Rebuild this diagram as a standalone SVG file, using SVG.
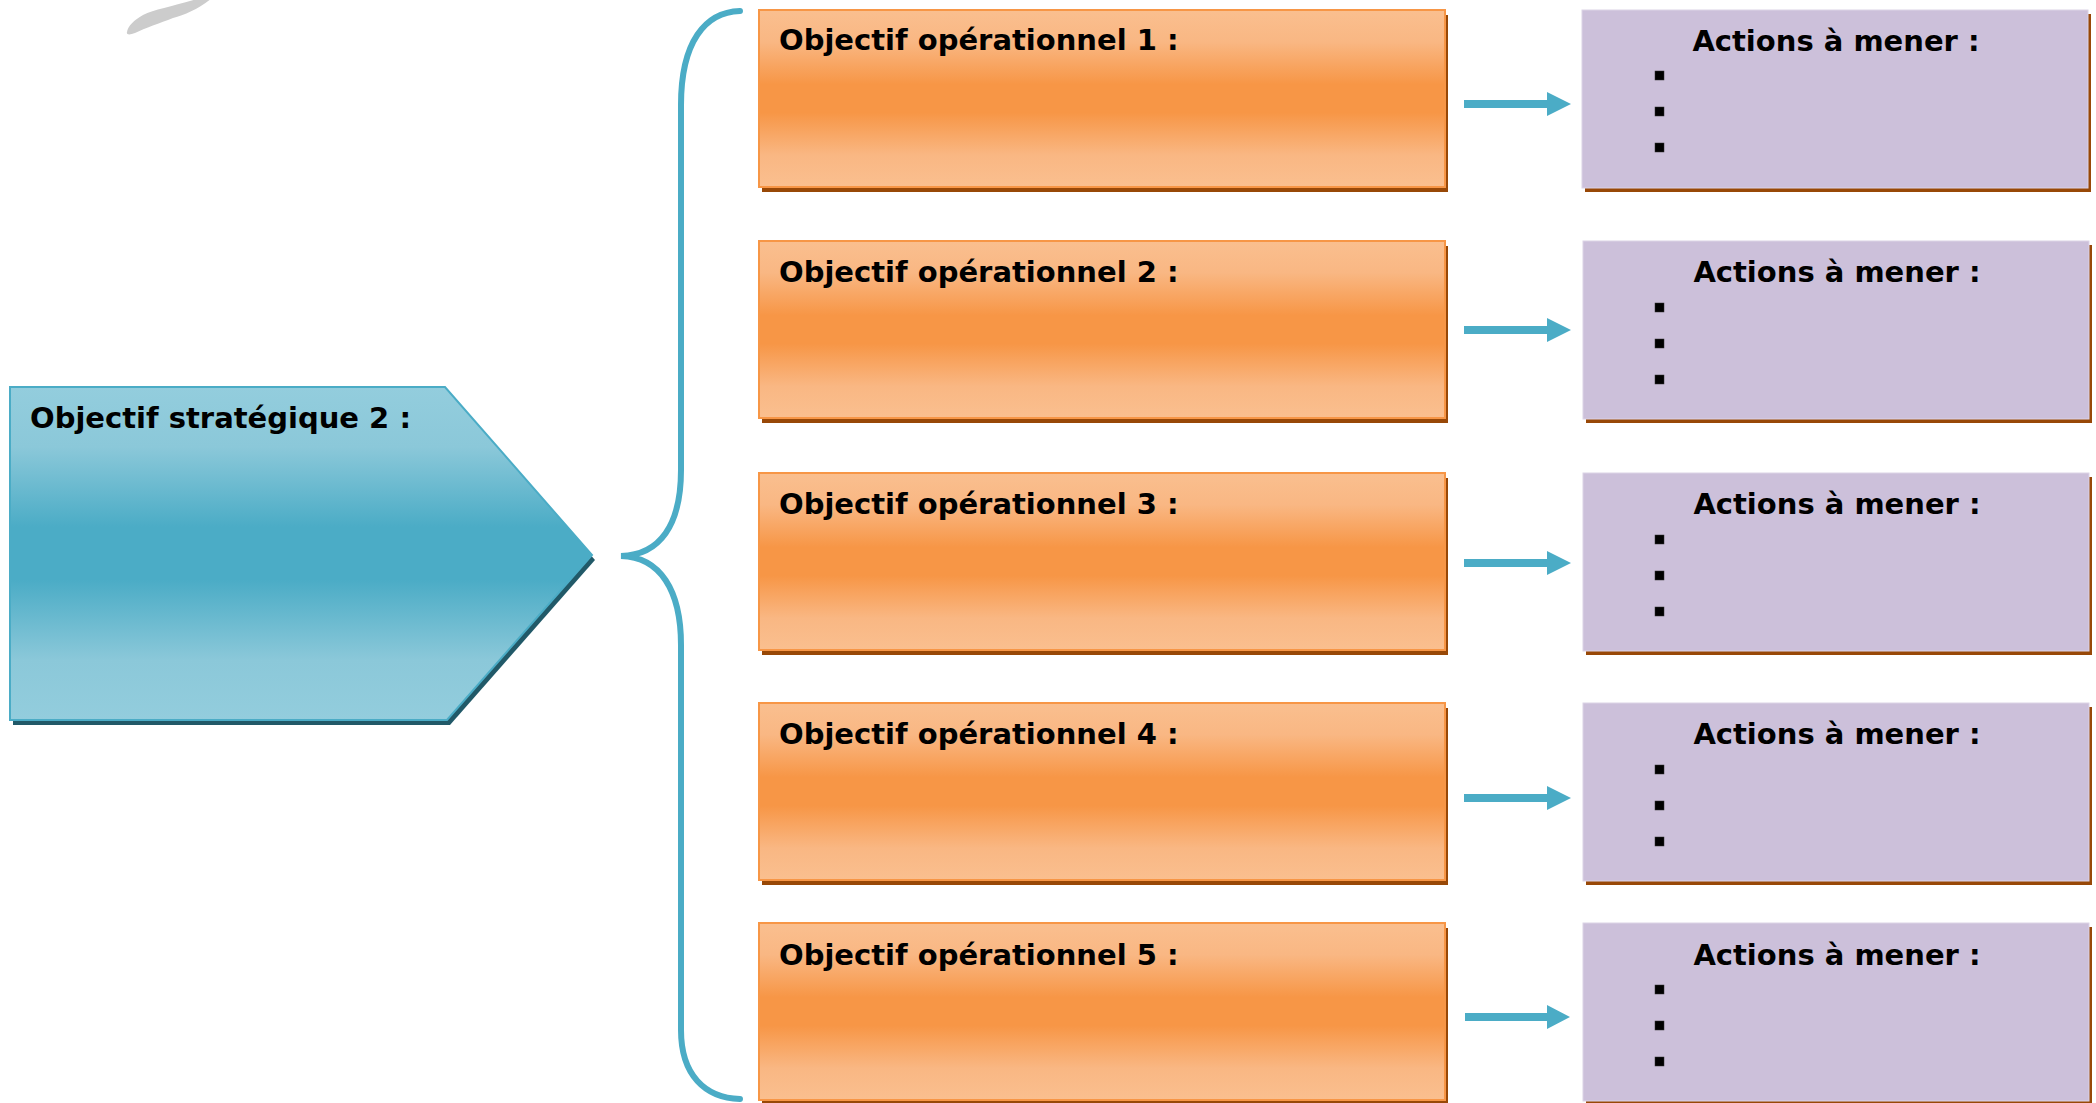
<svg xmlns="http://www.w3.org/2000/svg" width="2096" height="1103" viewBox="0 0 2096 1103">
<defs>
<linearGradient id="gOr" x1="0" y1="0" x2="0" y2="1">
<stop offset="0" stop-color="#FABF8F"/>
<stop offset="0.18" stop-color="#F9B783"/>
<stop offset="0.42" stop-color="#F79646"/>
<stop offset="0.58" stop-color="#F79646"/>
<stop offset="0.82" stop-color="#F9B783"/>
<stop offset="1" stop-color="#FABF8F"/>
</linearGradient>
<linearGradient id="gTe" x1="0" y1="0" x2="0" y2="1">
<stop offset="0" stop-color="#93CDDD"/>
<stop offset="0.18" stop-color="#8BC8D9"/>
<stop offset="0.42" stop-color="#4BACC6"/>
<stop offset="0.58" stop-color="#4BACC6"/>
<stop offset="0.82" stop-color="#8BC8D9"/>
<stop offset="1" stop-color="#93CDDD"/>
</linearGradient>
<style>
.t{font-family:"DejaVu Sans","Verdana",sans-serif;font-weight:bold;font-size:29px;fill:#000}
.tc{text-anchor:middle}
.or{fill:url(#gOr);stroke:#F79646;stroke-width:2}
.pu{fill:#CCC0DA;stroke:#DCD3E6;stroke-width:1}
.sh{fill:#984807}
.bu{fill:#000;stroke:#333;stroke-width:0.5}
.ar{fill:#4BACC6}
.br{fill:none;stroke:#4BACC6;stroke-width:6;stroke-linecap:round}
</style>
</defs>
<rect width="2096" height="1103" fill="#fff"/>
<path d="M127,32 C128,26 134,20 143,15 C155,9 175,6 200,-2 L212,-2 C200,8 185,15 173,18 C160,23 145,28 135,33 C130,35 126,35 127,32 Z" fill="#CCCCCC"/>

<g id="strategic">
<polygon points="13,392 448,392 595,560 450,725 13,725" fill="#215968"/>
<polygon points="10,387 445,387 592,555 447,720 10,720" fill="url(#gTe)" stroke="#4BACC6" stroke-width="2"/>
<text class="t" x="30" y="428">Objectif stratégique 2 :</text>
</g>

<g id="op1">
<rect class="sh" x="762" y="15" width="686" height="177"/>
<rect class="or" x="759" y="10" width="686" height="177"/>
<text class="t" x="779" y="50">Objectif opérationnel 1 :</text>
</g>
<g id="op2">
<rect class="sh" x="762" y="246" width="686" height="177"/>
<rect class="or" x="759" y="241" width="686" height="177"/>
<text class="t" x="779" y="282">Objectif opérationnel 2 :</text>
</g>
<g id="op3">
<rect class="sh" x="762" y="478" width="686" height="177"/>
<rect class="or" x="759" y="473" width="686" height="177"/>
<text class="t" x="779" y="514">Objectif opérationnel 3 :</text>
</g>
<g id="op4">
<rect class="sh" x="762" y="708" width="686" height="177"/>
<rect class="or" x="759" y="703" width="686" height="177"/>
<text class="t" x="779" y="744">Objectif opérationnel 4 :</text>
</g>
<g id="op5">
<rect class="sh" x="762" y="928" width="686" height="177"/>
<rect class="or" x="759" y="923" width="686" height="177"/>
<text class="t" x="779" y="965">Objectif opérationnel 5 :</text>
</g>

<g id="act1">
<rect class="sh" x="1585" y="14" width="506" height="178"/>
<rect class="pu" x="1582" y="10" width="506" height="178"/>
<text class="t tc" x="1836" y="51">Actions à mener :</text>
<rect class="bu" x="1655" y="71" width="9" height="9"/>
<rect class="bu" x="1655" y="107" width="9" height="9"/>
<rect class="bu" x="1655" y="143" width="9" height="9"/>
</g>
<g id="act2">
<rect class="sh" x="1586" y="245" width="506" height="178"/>
<rect class="pu" x="1583" y="241" width="506" height="178"/>
<text class="t tc" x="1837" y="282">Actions à mener :</text>
<rect class="bu" x="1655" y="303" width="9" height="9"/>
<rect class="bu" x="1655" y="339" width="9" height="9"/>
<rect class="bu" x="1655" y="375" width="9" height="9"/>
</g>
<g id="act3">
<rect class="sh" x="1586" y="477" width="506" height="178"/>
<rect class="pu" x="1583" y="473" width="506" height="178"/>
<text class="t tc" x="1837" y="514">Actions à mener :</text>
<rect class="bu" x="1655" y="535" width="9" height="9"/>
<rect class="bu" x="1655" y="571" width="9" height="9"/>
<rect class="bu" x="1655" y="607" width="9" height="9"/>
</g>
<g id="act4">
<rect class="sh" x="1586" y="707" width="506" height="178"/>
<rect class="pu" x="1583" y="703" width="506" height="178"/>
<text class="t tc" x="1837" y="744">Actions à mener :</text>
<rect class="bu" x="1655" y="765" width="9" height="9"/>
<rect class="bu" x="1655" y="801" width="9" height="9"/>
<rect class="bu" x="1655" y="837" width="9" height="9"/>
</g>
<g id="act5">
<rect class="sh" x="1586" y="927" width="506" height="178"/>
<rect class="pu" x="1583" y="923" width="506" height="178"/>
<text class="t tc" x="1837" y="965">Actions à mener :</text>
<rect class="bu" x="1655" y="985" width="9" height="9"/>
<rect class="bu" x="1655" y="1021" width="9" height="9"/>
<rect class="bu" x="1655" y="1057" width="9" height="9"/>
</g>

<g id="connectors">
<path class="br" d="M740,11 C705,12 681,42 681,105 L681,470 C681,525 660,555 621,556 C660,557 681,590 681,645 L681,1030 C681,1075 705,1098 740,1099"/>
<path class="ar" d="M1464,100 H1547 V92 L1571,104 L1547,116 V108 H1464 Z"/>
<path class="ar" d="M1464,326 H1547 V318 L1571,330 L1547,342 V334 H1464 Z"/>
<path class="ar" d="M1464,559 H1547 V551 L1571,563 L1547,575 V567 H1464 Z"/>
<path class="ar" d="M1464,794 H1547 V786 L1571,798 L1547,810 V802 H1464 Z"/>
<path class="ar" d="M1465,1013 H1547 V1005 L1570,1017 L1547,1029 V1021 H1465 Z"/>
</g>
</svg>
